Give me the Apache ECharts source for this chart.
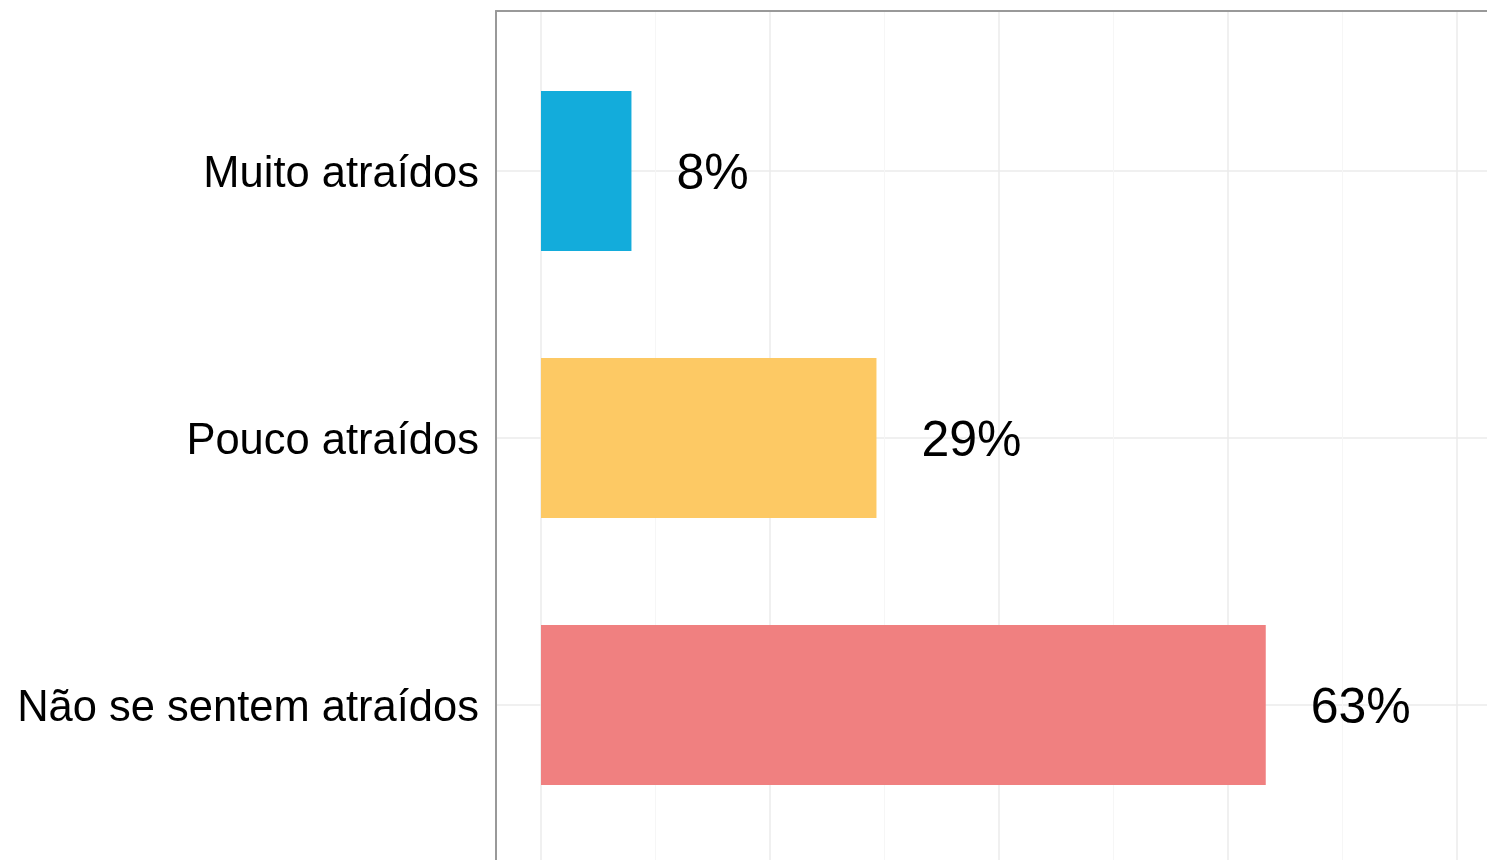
<!DOCTYPE html>
<html>
<head>
<meta charset="utf-8">
<script src="https://cdn.jsdelivr.net/npm/echarts@6/dist/echarts.min.js"></script>
<style>
  html, body { margin: 0; padding: 0; background: #ffffff; }
  #chart { width: 1487px; height: 860px; }
</style>
</head>
<body>
<div id="chart"></div>
<script>
// ---- data ----
const categories = ['Muito atraídos', 'Pouco atraídos', 'Não se sentem atraídos'];
const values = [7.9, 29.3, 63.3];
const categoryPositions = [1, 2, 3];

// ---- style ----
const palette = ['#13ACDB', '#FDC964', '#F08080'];
const FONT = '"Liberation Sans", Arial, sans-serif';
const X_MAX = 83.06;

const chart = echarts.init(document.getElementById('chart'), null, { renderer: 'canvas' });

const option = {
  animation: false,
  backgroundColor: '#ffffff',
  grid: [
    // frame + category labels + horizontal gridlines
    { left: 496, right: -5, top: 11, bottom: -5, outerBoundsMode: 'none', containLabel: false },
    // vertical gridlines
    { left: 541, right: -5, top: 11, bottom: -5, outerBoundsMode: 'none', containLabel: false },
    // bars
    { left: 541, right: -5, top: 37.5, height: 801, outerBoundsMode: 'none', containLabel: false }
  ],
  xAxis: [
    {
      gridIndex: 0, type: 'value', position: 'top', min: 0, max: 1,
      axisLine: { show: true, onZero: false, lineStyle: { color: '#999999', width: 2 } },
      axisTick: { show: false }, axisLabel: { show: false }, splitLine: { show: false }
    },
    {
      gridIndex: 1, type: 'value', min: 0, max: X_MAX, interval: 20,
      axisLine: { show: false }, axisTick: { show: false }, axisLabel: { show: false },
      splitLine: { show: true, lineStyle: { color: '#ebebeb', width: 1.5 } },
      minorTick: { show: false, splitNumber: 2 },
      minorSplitLine: { show: true, lineStyle: { color: '#f6f6f6', width: 1 } }
    },
    {
      gridIndex: 2, type: 'value', min: 0, max: X_MAX, show: false
    }
  ],
  yAxis: [
    {
      gridIndex: 0, type: 'value', min: 0.4, max: 3.6, inverse: true,
      axisLine: { show: true, onZero: false, lineStyle: { color: '#999999', width: 2 } },
      axisTick: { show: false, customValues: categoryPositions },
      axisLabel: {
        show: true,
        customValues: categoryPositions,
        margin: 17,
        color: '#000000',
        fontFamily: FONT,
        fontSize: 43.5,
        formatter: function (v) { return '{t|' + (categories[Math.round(v) - 1] || '') + '}'; },
        rich: {
          t: { color: '#000000', fontFamily: FONT, fontSize: 43.5, padding: [8, 0, 0, 0] }
        }
      },
      splitLine: { show: true, lineStyle: { color: '#ebebeb', width: 1.5 } }
    },
    {
      gridIndex: 1, type: 'value', show: false, min: 0, max: 1, splitLine: { show: false }
    },
    {
      gridIndex: 2, type: 'category', data: categories, inverse: true, show: false
    }
  ],
  series: [
    {
      type: 'bar',
      xAxisIndex: 2,
      yAxisIndex: 2,
      data: values,
      barWidth: '60%',
      itemStyle: {
        color: function (p) { return palette[p.dataIndex]; }
      },
      label: {
        show: true,
        position: 'right',
        distance: 45,
        offset: [0, 4],
        color: '#000000',
        fontFamily: FONT,
        fontSize: 50,
        formatter: function (p) { return Math.round(p.value) + '%'; }
      },
      silent: true
    }
  ]
};

chart.setOption(option);
</script>
</body>
</html>
